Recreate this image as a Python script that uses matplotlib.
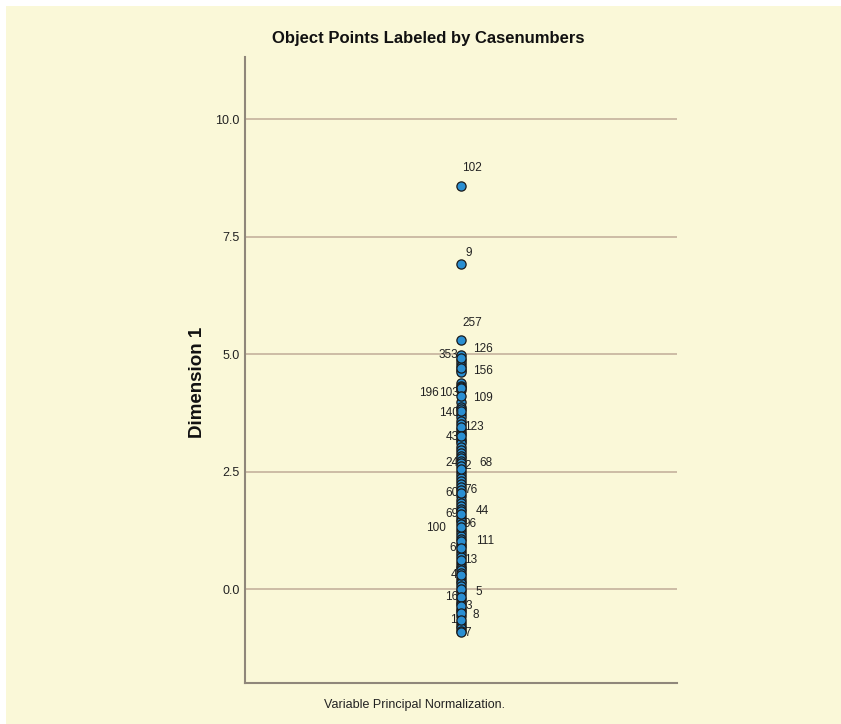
import matplotlib
matplotlib.use("Agg")
import matplotlib.pyplot as plt
from matplotlib.patches import Rectangle

# Data (Dimension 1 scores, one column at x = 0)
case_labels = ["102", "9", "257", "353", "126", "156", "196", "103", "109", "140",
               "123", "43", "24", "2", "68", "76", "60", "44", "69", "96",
               "100", "111", "6", "13", "4", "5", "16", "3", "8", "1", "7"]
case_values = [8.57, 6.91, 5.30, 4.98, 4.92, 4.70, 4.30, 4.27, 4.10, 3.78,
               3.45, 3.26, 2.68, 2.62, 2.55, 2.10, 2.04, 1.66, 1.60, 1.38,
               1.32, 1.02, 0.87, 0.62, 0.30, 0.00, -0.16, -0.36, -0.52, -0.66, -0.92]

# unlabelled cases (labels hidden behind neighbours in the original)
other_values = [4.88, 4.80, 4.74, 4.65, 4.62, 4.38, 4.33, 4.24, 3.98, 3.88, 3.83,
                3.72, 3.66, 3.58, 3.52, 3.40, 3.35, 3.30, 3.20, 3.15, 3.10, 3.03,
                2.96, 2.90, 2.84, 2.78, 2.73, 2.48, 2.42, 2.36, 2.30, 2.24, 2.18,
                1.97, 1.90, 1.82, 1.76, 1.71, 1.53, 1.47, 1.44, 1.25, 1.19, 1.13,
                1.07, 0.96, 0.92, 0.80, 0.74, 0.68, 0.56, 0.50, 0.45, 0.40, 0.35,
                0.24, 0.18, 0.12, 0.06, -0.05, -0.10, -0.22, -0.28, -0.31, -0.42,
                -0.47, -0.58, -0.72, -0.78, -0.84, -0.89]

y_ticks = [0.0, 2.5, 5.0, 7.5, 10.0]

# label offsets from each point, in pixels (dx right, dy up)
label_offsets = {
    "102": (11, 18), "9": (8, 11), "257": (11, 17), "353": (-13, 0),
    "126": (22, 9), "156": (22, -3), "196": (-32, -6), "103": (-12, -5),
    "109": (22, -2), "140": (-12, -2), "123": (13, 0), "43": (-9, -1),
    "24": (-9, 0), "2": (7, 0), "68": (25, 6), "76": (10, 0), "60": (-9, 0),
    "44": (21, 0), "69": (-9, 0), "96": (9, 0), "100": (-25, -1),
    "111": (24, 0), "6": (-8, 0), "13": (10, 0), "4": (-7, 0), "5": (18, -3),
    "16": (-9, 0), "3": (8, 0), "8": (15, -2), "1": (-8, 0), "7": (7, -1),
}

cream = "#faf8d8"
sans = ["Liberation Sans", "DejaVu Sans"]

fig = plt.figure(figsize=(8.41, 7.24), dpi=100, facecolor="white")
bg = Rectangle((6 / 841, 0), 1, 1 - 6 / 724, transform=fig.transFigure,
               facecolor=cream, edgecolor="none", zorder=-10)
fig.add_artist(bg)

ax = fig.add_axes([245 / 841, 1 - 683 / 724, (677 - 245) / 841, (683 - 57) / 724])
ax.set_facecolor(cream)
ax.set_xlim(-1, 1)
ax.set_ylim(-2.0, 11.32)

for t in y_ticks:
    ax.axhline(t, color="#c9b7a1", lw=1.3, zorder=1)

ax.scatter([0] * len(other_values), other_values, s=44, color="#2a8fd2",
           edgecolor="#1a1a1a", linewidth=0.9, zorder=3)
ax.scatter([0] * len(case_values), case_values, s=44, color="#2a8fd2",
           edgecolor="#1a1a1a", linewidth=0.9, zorder=3)

for lab, val in zip(case_labels, case_values):
    dx, dy = label_offsets[lab]
    ax.annotate(lab, (0, val), xytext=(dx * 0.72, dy * 0.72), textcoords="offset points",
                ha="center", va="center", fontsize=8.5, family=sans, color="#222222",
                zorder=4)

ax.set_yticks(y_ticks)
ax.set_yticklabels([f"{t:.1f}" for t in y_ticks], family=sans, fontsize=9, color="#222222")
ax.tick_params(axis="y", length=0, pad=4)
ax.set_xticks([])

for s in ["top", "right"]:
    ax.spines[s].set_visible(False)
for s in ["left", "bottom"]:
    ax.spines[s].set_color("#8f877a")
    ax.spines[s].set_linewidth(1.5)

fig.text(428 / 841, 1 - 38 / 724, "Object Points Labeled by Casenumbers", ha="center",
         va="center", fontsize=12, fontweight="bold", family=sans, color="#111111")
fig.text(198 / 841, 1 - 382 / 724, "Dimension 1", rotation=90, ha="center", va="center",
         fontsize=13.5, fontweight="bold", family=sans, color="#111111")
fig.text(414 / 841, 1 - 705 / 724, "Variable Principal Normalization.", ha="center",
         va="center", fontsize=9, family=sans, color="#222222")

fig.savefig("out.png", dpi=100, facecolor=fig.get_facecolor())
